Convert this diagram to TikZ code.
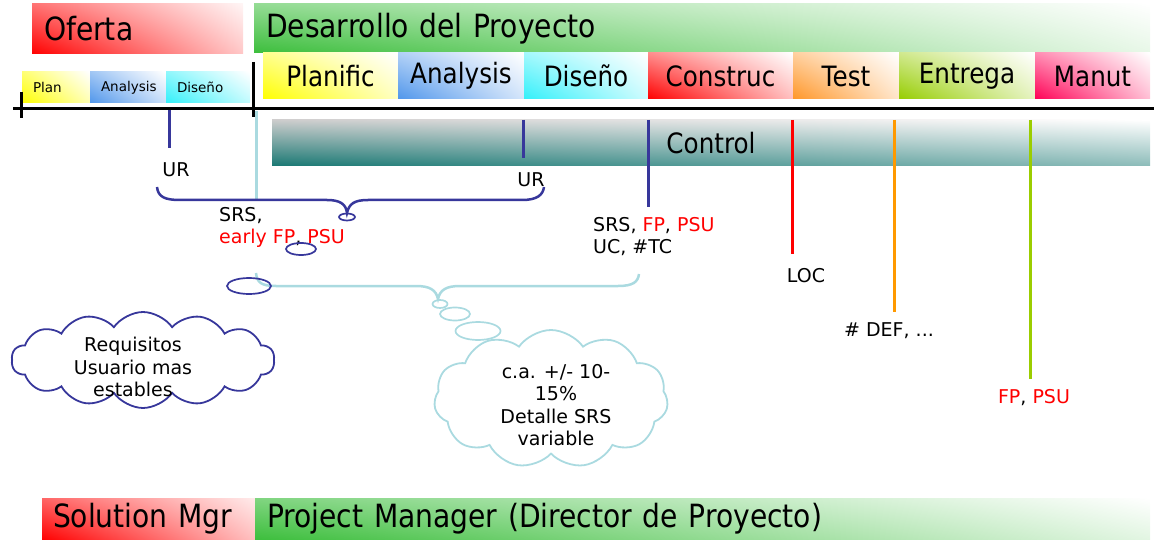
\documentclass[tikz,border=0pt]{standalone}
\usepackage{fontspec}
\setmainfont{DejaVu Sans}
\newfontfamily\narrowfont[FakeStretch=0.88]{DejaVu Sans}
\usepackage{tikz}
\usetikzlibrary{shapes.geometric,shapes.symbols,shadings}

\definecolor{navyline}{RGB}{55,55,155}
\definecolor{paleblue}{RGB}{170,218,224}
\definecolor{greenbar}{RGB}{60,190,60}
\definecolor{phblue}{RGB}{80,150,235}
\definecolor{phcyan}{RGB}{50,240,250}
\definecolor{phorange}{RGB}{255,150,40}
\definecolor{phgreen}{RGB}{150,205,0}
\definecolor{phpink}{RGB}{255,0,85}
\definecolor{tealbar}{RGB}{25,120,115}
\definecolor{orangeline}{RGB}{255,153,0}
\definecolor{greenline}{RGB}{155,205,0}

\begin{document}
\begin{tikzpicture}[x=1pt, y=-1pt,
    box/.style={shade, anchor=north west, inner sep=0pt, outer sep=0pt},
    titlebar/.style={box, inner xsep=12pt, align=left, font=\narrowfont\fontsize{32}{36}\selectfont},
    phase/.style={box, minimum height=46, font=\narrowfont\fontsize{28}{30}\selectfont,
        lower left=#1, upper left=#1!45!white, lower right=#1!25!white, upper right=white},
    prephase/.style={box, minimum height=31, inner xsep=11pt, align=left, font=\fontsize{13.5}{15}\selectfont,
        lower left=#1, upper left=#1!55!white, lower right=#1!30!white, upper right=white},
    lbl/.style={font=\fontsize{19}{22.5}\selectfont, inner sep=0pt},
    marker/.style={line width=3pt},
    bubble/.style={ellipse, draw=#1, line width=1.7pt, inner sep=0pt},
    thought/.style={cloud, draw=#1, line width=1.8pt, inner sep=0pt}
    ]
    \useasboundingbox (0,0) rectangle (1154,540);

    % Bars
    \node[titlebar, minimum width=211, minimum height=50, text width=187,
        lower left=red, upper left=red!55!white, lower right=red!22!white, upper right=red!4!white]
        (oferta) at (32,4) {Oferta};
    \node[titlebar, minimum width=896, minimum height=49, text width=872,
        lower left=greenbar, upper left=greenbar!55!white, lower right=greenbar!12!white, upper right=white]
        (desarrollo) at (254,4) {Desarrollo del Proyecto};

    % Phases
    \node[prephase=yellow, minimum width=68, text width=46] (plan) at (22,72) {Plan};
    \node[prephase=phblue, minimum width=76, text width=54] (preanalysis) at (plan.north east) {Analysis};
    \node[prephase=phcyan, minimum width=84, text width=62] (prediseno) at (preanalysis.north east) {Diseño};

    \node[phase=yellow, minimum width=135] (planific) at (263,53) {Planific};
    \node[phase=phblue, minimum width=126] (analysis) at (planific.north east) {Analysis};
    \node[phase=phcyan, minimum width=124] (diseno) at (analysis.north east) {Diseño};
    \node[phase=red, minimum width=145] (construc) at (diseno.north east) {Construc};
    \node[phase=phorange, minimum width=106] (test) at (construc.north east) {Test};
    \node[phase=phgreen, minimum width=136] (entrega) at (test.north east) {Entrega};
    \node[phase=phpink, minimum width=115] (manut) at (entrega.north east) {Manut};

    \node[box, minimum width=878, minimum height=46, font=\narrowfont\fontsize{28}{30}\selectfont,
        upper left=gray!40, lower left=tealbar, upper right=white, lower right=tealbar!50!white]
        (control) at (272,120) {Control};

    % Timeline
    \coordinate (tlstart) at (13,109);
    \coordinate (tlend) at (1154,109);
    \draw[line width=3pt] (tlstart) -- (tlend);
    \draw[line width=3pt] (21,92) -- (21,118);
    \draw[line width=3pt] (253,62) -- (253,117);
    \draw[paleblue, line width=3pt] (256,111) -- (256,200);

    % Labels
    \node[lbl] (ur1) at (176,170) {UR};
    \node[lbl] (ur2) at (531,180) {UR};
    \node[lbl, align=left, anchor=north west] (srs1) at (219,207)
        {SRS,\\\textcolor{red}{early FP}, \textcolor{red}{PSU}};
    \node[lbl, align=left, anchor=north west] (srs2) at (593,217)
        {SRS, \textcolor{red}{FP}, \textcolor{red}{PSU}\\UC, \#TC};
    \node[lbl] (loc) at (806,276) {LOC};
    \node[lbl] (def) at (889,331) {\# DEF, ...};
    \node[lbl] (fppsu) at (1034,398) {\textcolor{red}{FP}, \textcolor{red}{PSU}};

    % Marker lines
    \coordinate (m1) at (169,110);  \coordinate (m1end) at (169,148);
    \coordinate (m2) at (523,120);  \coordinate (m2end) at (523,158);
    \coordinate (m3) at (648,120);  \coordinate (m3end) at (648,207);
    \coordinate (m4) at (792,120);  \coordinate (m4end) at (792,254);
    \coordinate (m5) at (894,120);  \coordinate (m5end) at (894,312);
    \coordinate (m6) at (1030,120); \coordinate (m6end) at (1030,379);
    \draw[marker, navyline] (m1) -- (m1end);
    \draw[marker, navyline] (m2) -- (m2end);
    \draw[marker, navyline] (m3) -- (m3end);
    \draw[marker, red] (m4) -- (m4end);
    \draw[marker, orangeline] (m5) -- (m5end);
    \draw[marker, greenline] (m6) -- (m6end);

    % Braces
    \coordinate (nbl) at (157,187);
    \coordinate (nbr) at (544,187);
    \coordinate (pbl) at (256,273);
    \coordinate (pbr) at (639,274);
    \draw[navyline, line width=2.5pt] (nbl) .. controls (158,197) and (165,200) .. (180,200)
        -- (327,200) .. controls (340,200) and (346,204) .. (347,213)
        .. controls (349,204) and (354,200) .. (368,200)
        -- (522,200) .. controls (537,200) and (543,195) .. (nbr);
    \draw[paleblue, line width=2.5pt] (pbl) .. controls (257,283) and (262,286) .. (276,286)
        -- (416,286) .. controls (430,286) and (436,290) .. (438,299)
        .. controls (440,290) and (446,286) .. (460,286)
        -- (618,286) .. controls (633,286) and (638,282) .. (pbr);

    % Bubbles
    \node[bubble=navyline, minimum width=16, minimum height=7] (nb1) at (347,217) {};
    \node[bubble=navyline, minimum width=30, minimum height=12] (nb2) at (301,249) {};
    \node[bubble=navyline, minimum width=44, minimum height=16] (nb3) at (249,286) {};
    \node[bubble=paleblue, minimum width=15, minimum height=8] (pb1) at (440,304) {};
    \node[bubble=paleblue, minimum width=30, minimum height=13] (pb2) at (455,314) {};
    \node[bubble=paleblue, minimum width=45, minimum height=18] (pb3) at (478,331) {};

    % Clouds
    \node[thought=navyline, cloud puffs=14, cloud puff arc=110, aspect=2.7, minimum width=263, minimum height=96]
        (reqcloud) at (143,360) {};
    \node[lbl, align=center] (reqtxt) at (133,367) {Requisitos\\Usuario mas\\estables};
    \node[thought=paleblue, cloud puffs=11, cloud puff arc=110, aspect=1.7, minimum width=234, minimum height=138]
        (srscloud) at (551,399) {};
    \node[lbl, align=center] (srstxt) at (556,405) {c.a. +/- 10-\\15\%\\Detalle SRS\\variable};

    % Roles
    \node[titlebar, minimum width=213, minimum height=42, text width=191, inner xsep=11pt,
        lower left=red, upper left=red!60!white, lower right=red!25!white, upper right=red!8!white]
        (solmgr) at (42,498) {Solution Mgr};
    \node[titlebar, minimum width=895, minimum height=42, text width=871,
        lower left=greenbar, upper left=greenbar!65!white, lower right=greenbar!15!white, upper right=white]
        (pm) at (255,498) {Project Manager (Director de Proyecto)};
\end{tikzpicture}
\end{document}
